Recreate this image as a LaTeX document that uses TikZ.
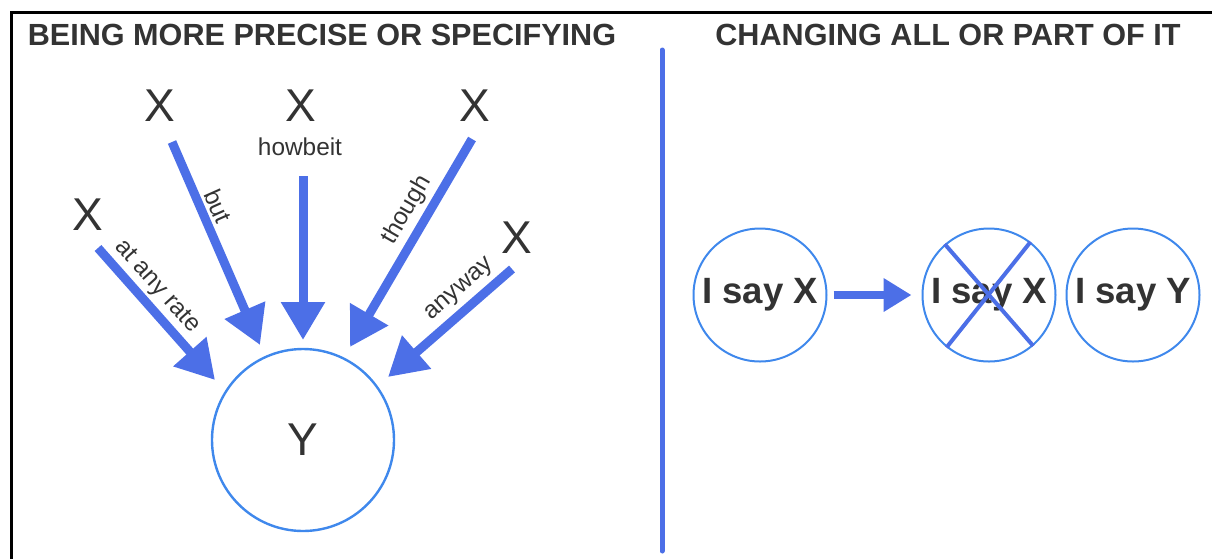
\documentclass[tikz,border=0pt]{standalone}
\usepackage{fontspec}
\setmainfont{Liberation Sans}
\usetikzlibrary{arrows.meta,positioning}
\definecolor{arrowblue}{HTML}{4C6FE7}
\definecolor{ringblue}{HTML}{3F88EC}
\definecolor{inkgray}{HTML}{333333}
\tikzset{
    heading/.style = {
        font = \fontsize{15.3}{18}\selectfont\bfseries,
        text = inkgray,
        },
    var/.style = {
        font = \fontsize{23}{26}\selectfont,
        text = inkgray,
        inner sep = 0pt,
        },
    link word/.style = {
        font = \fontsize{12.2}{14}\selectfont,
        text = inkgray,
        inner sep = 0pt,
        },
    big ring/.style = {
        circle,
        draw = ringblue,
        line width = 1.2pt,
        minimum size = 91pt,
        inner sep = 0pt,
        font = \fontsize{23}{26}\selectfont,
        text = inkgray,
        },
    ring/.style = {
        circle,
        draw = ringblue,
        line width = 1pt,
        minimum size = 66.5pt,
        inner sep = 0pt,
        font = \fontsize{18.3}{21}\selectfont\bfseries,
        text = inkgray,
        },
    big arrow/.style = {
        draw = arrowblue,
        line width = 4.5pt,
        -{Triangle[length=19pt, width=21pt]},
        },
    small arrow/.style = {
        draw = arrowblue,
        line width = 4pt,
        -{Triangle[length=14pt, width=16pt]},
        },
    cross line/.style = {
        draw = arrowblue,
        line width = 2pt,
        },
    divider/.style = {
        draw = arrowblue,
        line width = 2.5pt,
        line cap = round,
        },
}

\begin{document}
\begin{tikzpicture}[x=0.5pt, y=-0.5pt]
    \useasboundingbox (0,0) rectangle (1212,559);

    % frame and middle rule
    \draw[line width=1.5pt] (11.5,559) -- (11.5,12) -- (1212,12);
    \draw[divider] (662,50) -- (662,551);

    \node[heading] (left title) at (322,35) {BEING MORE PRECISE OR SPECIFYING};
    \node[heading] (right title) at (948,35) {CHANGING ALL OR PART OF IT};

    % left: five X's pointing at Y
    \node[big ring] (y) at (303,440) {Y};
    \node[var] (x1) at (160,106) {X};
    \node[var] (x2) at (301,106) {X};
    \node[var] (x3) at (475,106) {X};
    \node[var] (x4) at (88,215) {X};
    \node[var] (x5) at (517,238) {X};

    \coordinate (s1) at (172,142);
    \coordinate (t1) at (260,345);
    \coordinate (s2) at (303,176);
    \coordinate (t2) at (303,340);
    \coordinate (s3) at (472,139);
    \coordinate (t3) at (350,347);
    \coordinate (s4) at (98,248);
    \coordinate (t4) at (215,380);
    \coordinate (s5) at (512,269);
    \coordinate (t5) at (388,377);

    \draw[big arrow] (s1) -- (t1);
    \draw[big arrow] (s2) -- (t2);
    \draw[big arrow] (s3) -- (t3);
    \draw[big arrow] (s4) -- (t4);
    \draw[big arrow] (s5) -- (t5);

    \node[link word, rotate=-66] (w1) at (218,206) {but};
    \node[link word] (w2) at (300,147) {howbeit};
    \node[link word, rotate=60] (w3) at (407,210) {though};
    \node[link word, rotate=-48] (w4) at (157,287) {at any rate};
    \node[link word, rotate=41] (w5) at (460,290) {anyway};

    % right: X gets replaced
    \node[ring] (say1) at (760,295) {I say X};
    \node[ring] (say2) at (989,295) {I say X};
    \node[ring] (say3) at (1133,295) {I say Y};

    \draw[small arrow, shorten <=3pt, shorten >=5pt] (say1.east) -- (say2.west);
    \draw[cross line] (say2.131) -- (say2.-49);
    \draw[cross line] (say2.52) -- (say2.231);
\end{tikzpicture}
\end{document}
